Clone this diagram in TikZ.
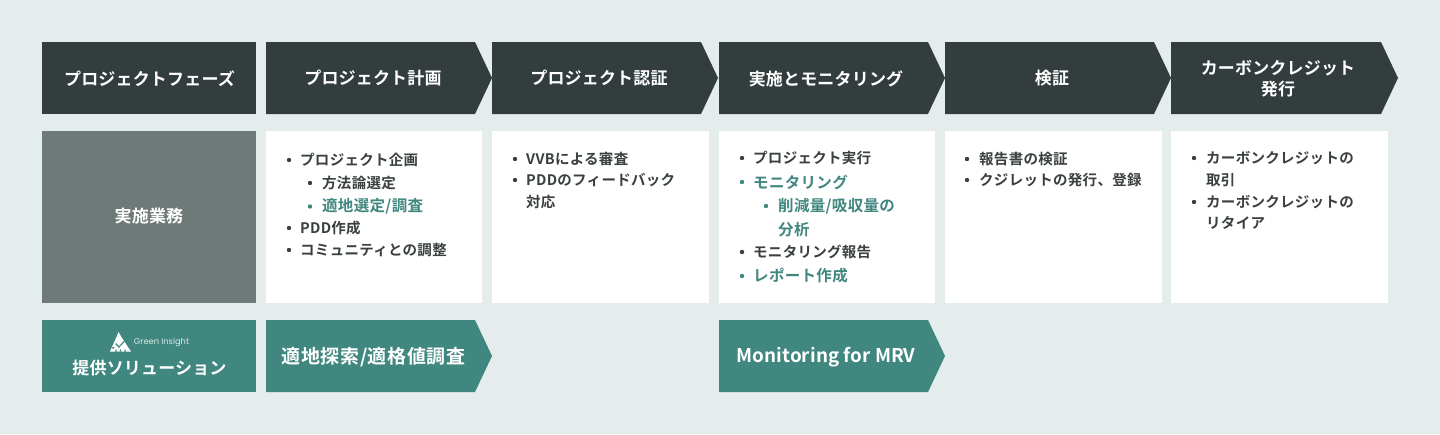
\documentclass[tikz,border=0pt]{standalone}
\usepackage{fontspec}
\setmainfont{Noto Sans CJK JP}[BoldFont={Noto Sans CJK JP Bold}]
\newfontfamily\headf{Noto Sans CJK JP Bold}[LetterSpace=1]
\newfontfamily\bandf{Noto Sans CJK JP Bold}[LetterSpace=3]
\newfontfamily\monf{Noto Sans CJK JP Bold}[LetterSpace=0.5]
\newfontfamily\bodyf{Noto Sans CJK JP Bold}[LetterSpace=2]
\newfontfamily\logof{Poppins}
\definecolor{bgc}{HTML}{E5ECEC}
\definecolor{darkc}{HTML}{333D3D}
\definecolor{grayc}{HTML}{6E7A77}
\definecolor{tealc}{HTML}{408780}
\definecolor{textc}{HTML}{3A3F3F}
\definecolor{logoc}{HTML}{DCE8E6}
\tikzset{
  x=1pt,y=-1pt,
  head/.style={text=white,align=center,font=\headf\fontsize{17}{21}\selectfont,inner sep=0pt},
  line/.style={anchor=west,inner sep=0pt,text=textc,font=\bodyf\fontsize{14.5}{14.5}\selectfont},
  hi/.style={anchor=west,inner sep=0pt,text=tealc,font=\bodyf\fontsize{15.5}{15.5}\selectfont},
  band/.style={text=white,inner sep=0pt,yshift=-1.5pt},
}
\newcommand{\arrowbox}[4]{\fill[#4] (#1,#2) -- (#3-17,#2) -- (#3,#2+36) -- (#3-17,#2+72) -- (#1,#2+72) -- cycle;}
\newcommand{\itemhi}[5]{%
  \node[hi] (#1) at (#3,#4) {#5};
  \fill[tealc] (#2,#4) circle[radius=2.2pt];
}
\newcommand{\itemtx}[5]{%
  \node[line] (#1) at (#3,#4) {#5};
  \fill[textc] (#2,#4) circle[radius=2.2pt];
}
\begin{document}
\begin{tikzpicture}
\fill[bgc] (0,0) rectangle (1440,434);
\useasboundingbox (0,0) rectangle (1440,434);
% header row
\fill[darkc] (42,42) rectangle (256,114);
\arrowbox{266}{42}{492}{darkc}
\arrowbox{492}{42}{718}{darkc}
\arrowbox{719}{42}{945}{darkc}
\arrowbox{945}{42}{1171}{darkc}
\arrowbox{1171}{42}{1398}{darkc}
\node[head] (h0) at (149.5,78.5) {プロジェクトフェーズ};
\node[head] (h1) at (373,78.5) {プロジェクト計画};
\node[head] (h2) at (599,78.5) {プロジェクト認証};
\node[head] (h3) at (826,78.5) {実施とモニタリング};
\node[head] (h4) at (1052,78.5) {検証};
\node[head] (h5) at (1278,78.5) {カーボンクレジット\\発行};
% middle row
\fill[grayc] (42,131) rectangle (256,303);
\foreach \a/\b in {266/482,492/709,719/935,945/1162,1171/1388}
  \fill[white] (\a,131) rectangle (\b,303);
\node[head] (m0) at (149,216) {実施業務};
% column 1
\itemtx{a1}{289}{300}{160}{プロジェクト企画}
\itemtx{a2}{310}{322}{183}{方法論選定}
\itemhi{a3}{310}{322}{206.5}{適地選定/調査}
\itemtx{a4}{289}{300}{228}{PDD作成}
\itemtx{a5}{289}{300}{250}{コミュニティとの調整}
% column 2
\itemtx{b1}{515}{526}{159}{VVBによる審査}
\itemtx{b2}{515}{526}{180}{PDDのフィードバック}
\node[line] (b3) at (526,202) {対応};
% column 3
\itemtx{c1}{742}{753}{158}{プロジェクト実行}
\itemhi{c2}{742}{753}{182}{モニタリング}
\itemhi{c3}{766}{778}{206}{削減量/吸収量の}
\node[hi] (c4) at (778,229.5) {分析};
\itemtx{c5}{742}{753}{252}{モニタリング報告}
\itemhi{c6}{742}{753}{276}{レポート作成}
% column 4
\itemtx{d1}{967}{979}{159}{報告書の検証}
\itemtx{d2}{967}{979}{180}{クジレットの発行、登録}
% column 5
\itemtx{e1}{1194}{1206}{158}{カーボンクレジットの}
\node[line] (e2) at (1206,180) {取引};
\itemtx{e3}{1194}{1206}{202}{カーボンクレジットの}
\node[line] (e4) at (1206,223) {リタイア};
% bottom row
\fill[tealc] (42,320) rectangle (256,392);
\arrowbox{266}{320}{492}{tealc}
\arrowbox{719}{320}{945}{tealc}
\node[head] (s0) at (149.5,368) {提供ソリューション};
\node[band,font=\bandf\fontsize{19}{19}\selectfont] (s1) at (373.5,356) {適地探索/適格値調査};
\node[band,font=\monf\fontsize{18.8}{18.8}\selectfont] (s2) at (826,356) {Monitoring for MRV};
% logo
\fill[white] (110,351.5) -- (116.5,337) -- (118.5,332) -- (122,338) -- (131,351.5) -- cycle;
\draw[tealc,line width=1.1pt] (115.5,343.5) -- (119,347) -- (125,340.5);
\fill[tealc] (112,347) -- (114.5,347) -- (113,349.5) -- cycle;
\foreach \nx in {115,119.5,124}
  \fill[tealc] (\nx,351.5) -- (\nx+2,351.5) -- (\nx+1,349) -- cycle;
\node[text=logoc,inner sep=0pt,font=\logof\fontsize{8.3}{8.3}\selectfont] (logo) at (161.5,342.5) {Green Insight};
\end{tikzpicture}
\end{document}
